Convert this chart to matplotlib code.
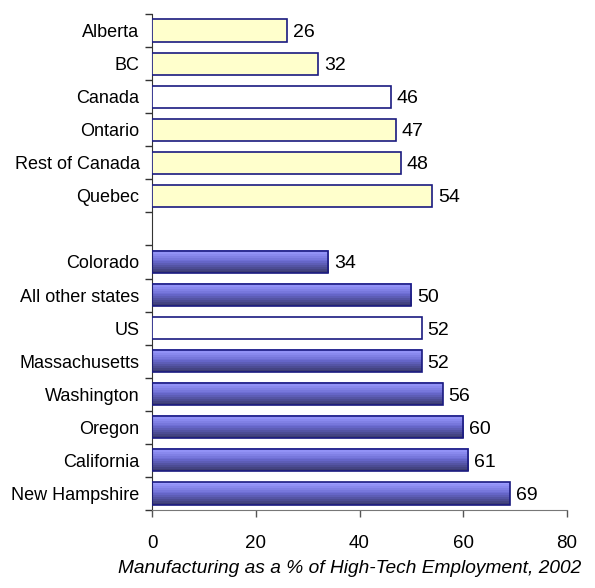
import numpy as np
import matplotlib
matplotlib.use("Agg")
import matplotlib.pyplot as plt
from matplotlib.colors import LinearSegmentedColormap

plt.rcParams['font.family'] = ['Liberation Sans', 'DejaVu Sans']

# data, top to bottom
canada_names = ["Alberta", "BC", "Canada", "Ontario", "Rest of Canada", "Quebec"]
canada_vals = [26, 32, 46, 47, 48, 54]
us_names = ["Colorado", "All other states", "US", "Massachusetts", "Washington",
            "Oregon", "California", "New Hampshire"]
us_vals = [34, 50, 52, 52, 56, 60, 61, 69]
totals = ["Canada", "US"]
x_ticks = [0, 20, 40, 60, 80]
x_title = "Manufacturing as a % of High-Tech Employment, 2002"

names = canada_names + [""] + us_names
vals = canada_vals + [None] + us_vals
group = ["ca"] * len(canada_names) + [None] + ["us"] * len(us_names)

edge = "#1a1a80"
bar_h = 0.67
grad = LinearSegmentedColormap.from_list("g", ["#9c9cff", "#6a6ad0", "#3c3c72"])

fig = plt.figure(figsize=(5.95, 5.88), dpi=100)
ax = fig.add_axes([0.2555, 0.1327, 0.6975, 0.8435])

n = len(names)

for i, (nm, v, g) in enumerate(zip(names, vals, group)):
    if v is None:
        continue
    if nm in totals:
        ax.barh(i, v, height=bar_h, color="white", edgecolor=edge, linewidth=1.2, zorder=3)
    elif g == "ca":
        ax.barh(i, v, height=bar_h, color="#ffffcc", edgecolor=edge, linewidth=1.2, zorder=3)
    else:
        img = np.linspace(0, 1, 12).reshape(-1, 1)
        ax.imshow(img, cmap=grad, aspect="auto", interpolation="nearest",
                  extent=[0, v, i + bar_h / 2, i - bar_h / 2], zorder=2)
        ax.barh(i, v, height=bar_h, color="none", edgecolor=edge, linewidth=1.2, zorder=3)
    ax.text(v + 1.1, i, str(v), va="center_baseline", ha="left", fontsize=14, color="black")

ax.set_xlim(0, 80)
ax.set_ylim(n - 0.5, -0.5)

ax.set_yticks(range(n))
ax.set_yticklabels(names, fontsize=13)
ax.set_yticks(np.arange(-0.5, n, 1), minor=True)
ax.tick_params(axis="y", which="major", length=0, pad=9)
ax.tick_params(axis="y", which="minor", length=5, width=1, color="#333333")

ax.set_xticks(x_ticks)
ax.set_xticklabels([str(t) for t in x_ticks], fontsize=13.5)
ax.tick_params(axis="x", length=5, width=1, color="#555555", pad=13)

for s in ["top", "right"]:
    ax.spines[s].set_visible(False)
ax.spines["left"].set_color("#333333")
ax.spines["bottom"].set_color("#777777")

fig.text(0.588, 0.034, x_title, ha="center", va="center", fontsize=13.8, style="italic")

fig.savefig("out.png", dpi=100)
